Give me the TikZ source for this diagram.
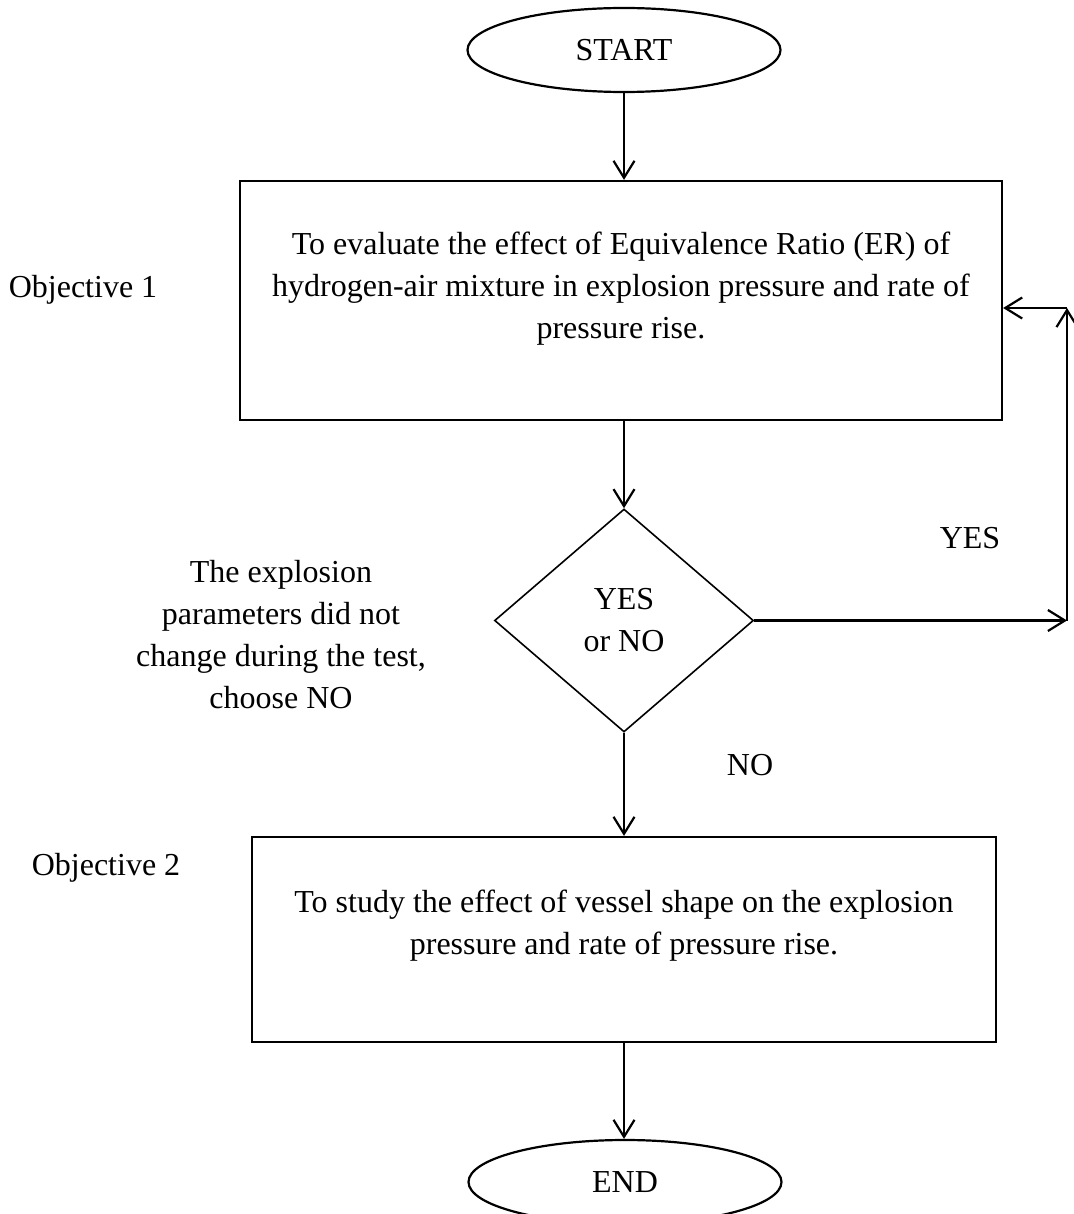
\documentclass[tikz,border=0pt]{standalone}
\usepackage{fontspec}
\setmainfont{Liberation Serif}
\usetikzlibrary{shapes}
\usetikzlibrary{arrows.meta}

\begin{document}
\begin{tikzpicture}[x=0.5pt,y=-0.5pt,line width=1.1pt,
    >={Straight Barb[length=8.5pt,width=10.5pt]},
    every node/.style={font=\fontsize{16}{21}\selectfont,align=center},
    term/.style={draw,ellipse,minimum width=156.5pt,minimum height=42pt,inner sep=0pt},
    objbox/.style={draw,rectangle,inner sep=0pt},
    choice/.style={draw,diamond,minimum width=129.5pt,minimum height=111.5pt,inner sep=0pt,line width=0.8pt}]
      \useasboundingbox (0,0) rectangle (1073,1214);
      \node[term] (start) at (624,50) {START};
      \node[objbox,minimum width=381pt,minimum height=119.5pt] (obj1) at (621,300.5) {};
      \node (obj1txt) at (621,289) {To evaluate the effect of Equivalence Ratio (ER) of\\hydrogen-air mixture in explosion pressure and rate of\\pressure rise.};
      \node (obj1lbl) at (83,290) {Objective 1};
      \node[choice] (choice) at (624,620.5) {YES\\or NO};
      \node (note) at (281,635) {The explosion\\parameters did not\\change during the test,\\choose NO};
      \node (yeslbl) at (970,538) {YES};
      \node (nolbl) at (750,765) {NO};
      \node[objbox,minimum width=372pt,minimum height=102.5pt] (obj2) at (624,939.5) {};
      \node (obj2txt) at (624,926) {To study the effect of vessel shape on the explosion\\pressure and rate of pressure rise.};
      \node (obj2lbl) at (106,868) {Objective 2};
      \node[term] (finish) at (625,1182) {END};
      \coordinate (c1) at (1067,620.5);
      \coordinate (c2) at (1067,308);
      \draw[->] (start.south) -- (start.south |- obj1.north);
      \draw[->] (obj1.south -| choice.north) -- (choice.north);
      \draw[->] (choice.south) -- (choice.south |- obj2.north);
      \draw[->] (obj2.south -| choice.south) -- (choice.south |- finish.north);
      \draw[->] (choice.east) -- (c1);
      \draw[->] (c1) -- (c2);
      \draw[->] (c2) -- (c2 -| obj1.east);
    \end{tikzpicture}
\end{document}
